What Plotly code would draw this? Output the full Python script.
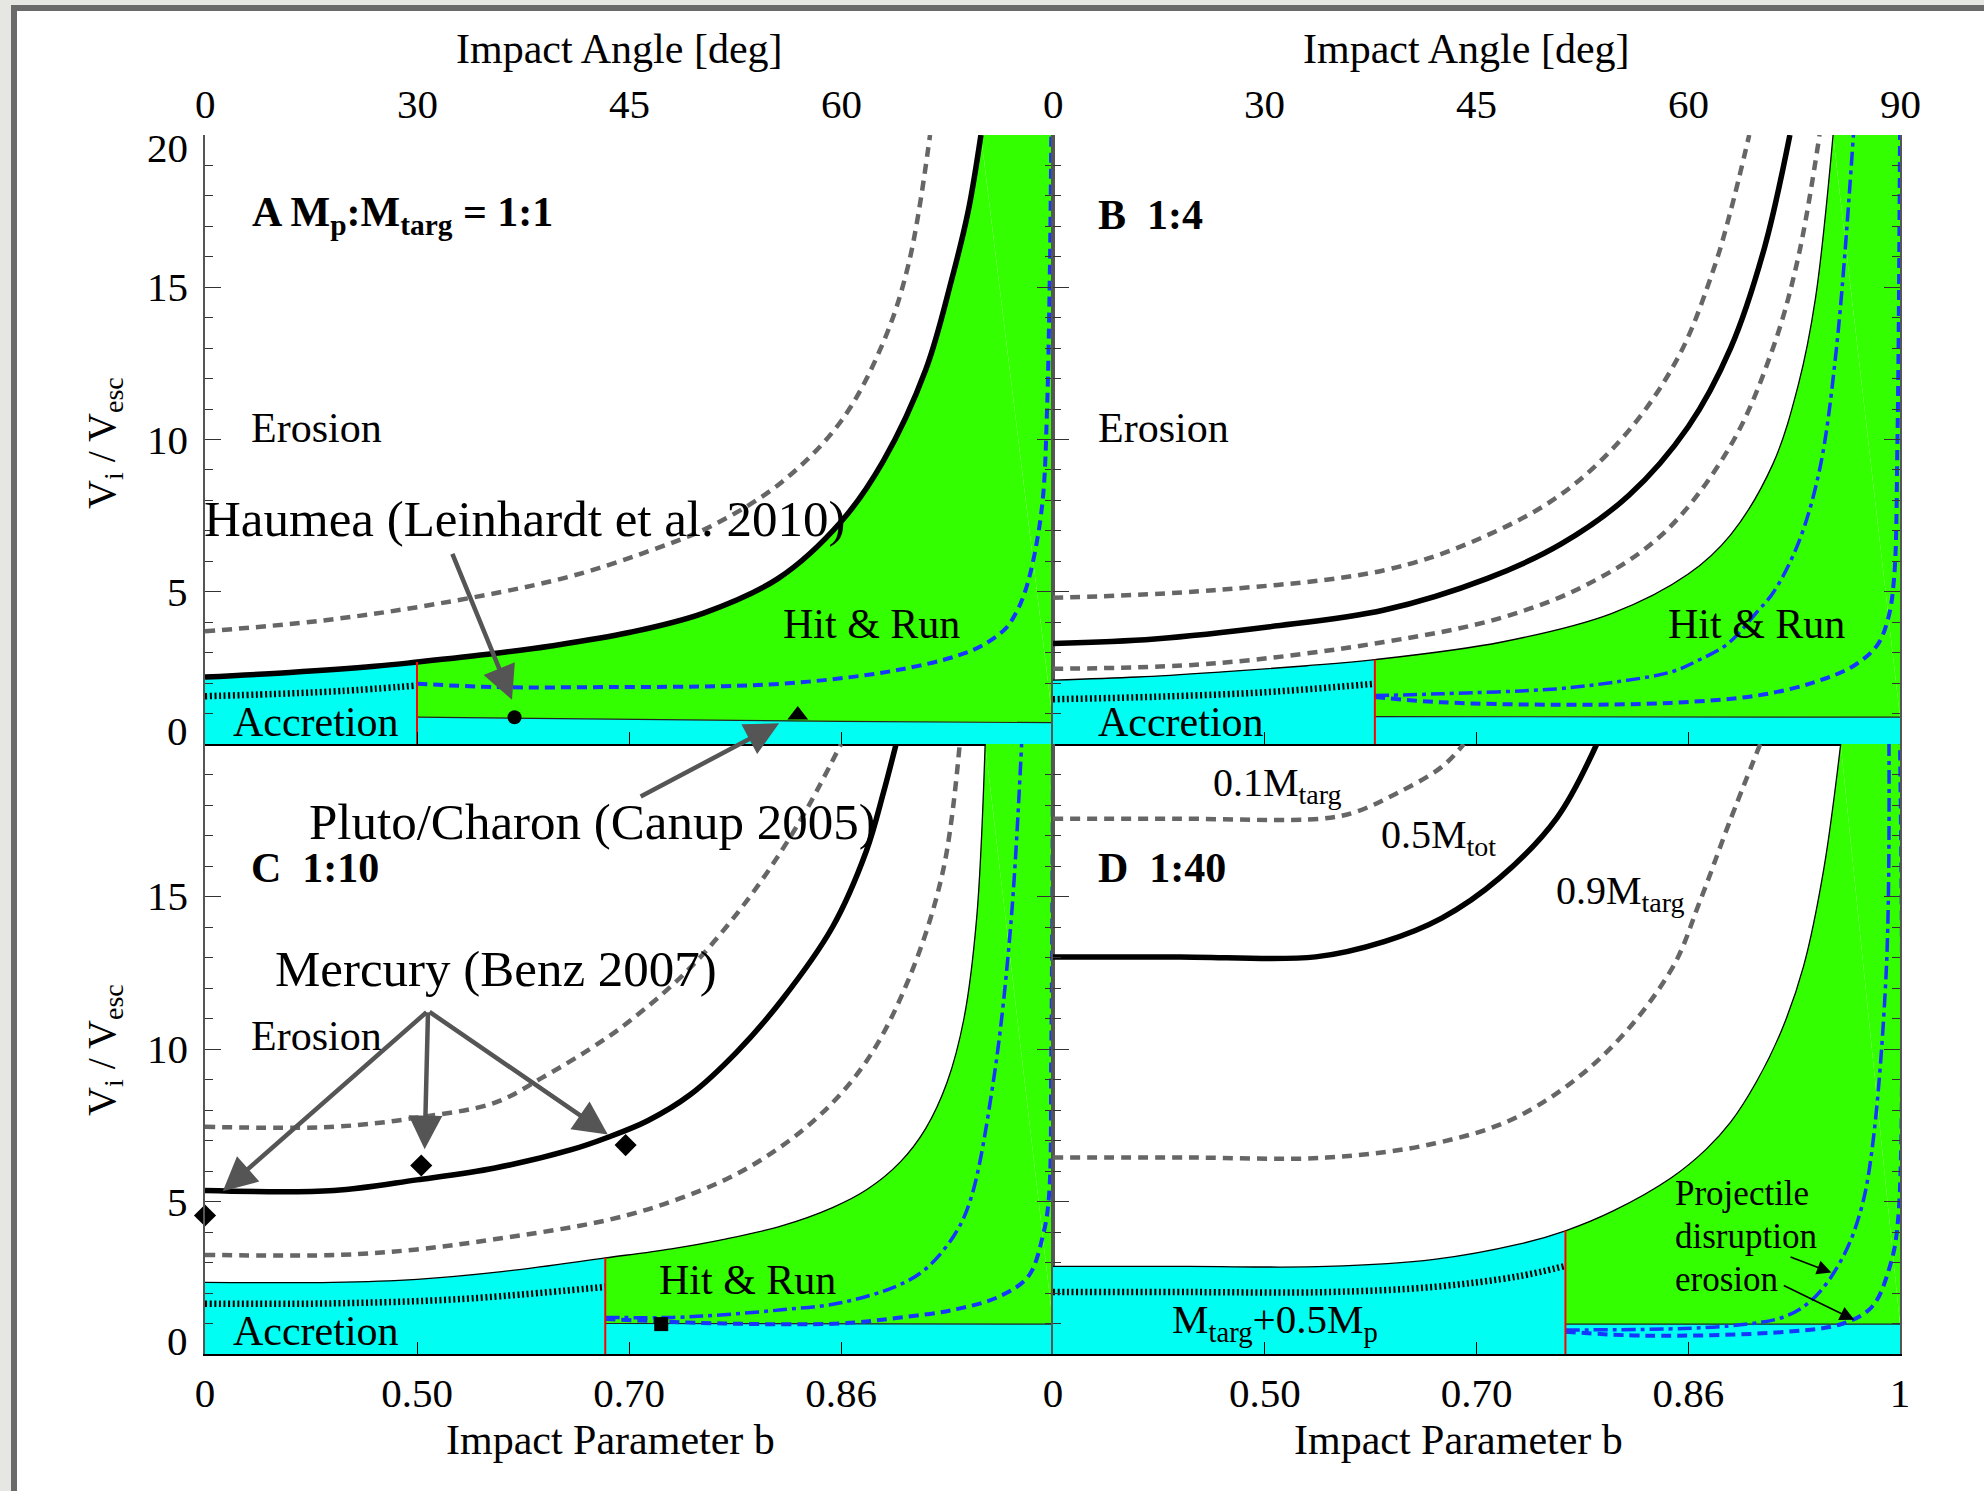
import math
import plotly.graph_objects as go

W, H = 1984, 1491

# ---------------- axis ticks ----------------
angle_major = [0, 30, 45, 60, 90]
angle_major_labels = ["0", "30", "45", "60", "90"]
angle_minor = [5, 10, 15, 20, 25, 35, 40, 50, 55, 65, 70, 75, 80, 85]
b_major_labels = ["0", "0.50", "0.70", "0.86", "1"]
v_major = [0, 5, 10, 15, 20]

# ---------------- data: x = b^2 (= sin^2 impact angle), y = Vi/Vesc ----------------
# Panel A  Mp:Mtarg = 1:1
A_red = 0.25
A_bnd_x = [0, 0.10, 0.20, 0.25, 0.341, 0.408, 0.50, 0.588, 0.676, 0.75, 0.80, 0.85, 0.88, 0.90, 0.915]
A_bnd_y = [2.2, 2.35, 2.55, 2.69, 2.97, 3.22, 3.66, 4.3, 5.44, 7.3, 9.3, 12.3, 15.2, 17.5, 20.0]
A_low_x = [0.25, 0.5, 0.75, 1.0]
A_low_y = [0.88, 0.80, 0.74, 0.70]
A_dot_x = [0, 0.08, 0.16, 0.25]
A_dot_y = [1.57, 1.64, 1.74, 1.92]
A_grey_x = [0, 0.137, 0.273, 0.422, 0.52, 0.60, 0.68, 0.75, 0.80, 0.83, 0.855]
A_grey_y = [3.7, 4.05, 4.6, 5.44, 6.3, 7.2, 8.6, 10.6, 13.2, 15.8, 20]
A_bdash_x = [0.25, 0.341, 0.477, 0.612, 0.68, 0.7475, 0.815, 0.883, 0.917, 0.944, 0.957, 0.967, 0.978, 0.988, 0.993, 0.996, 0.998]
A_bdash_y = [1.98, 1.87, 1.87, 1.90, 1.98, 2.15, 2.42, 2.86, 3.24, 3.79, 4.34, 5.0, 6.2, 8.05, 11.0, 15.0, 20.0]

# Panel B  1:4
B_red = 0.38
B_bnd_x = [0, 0.10, 0.20, 0.30, 0.38, 0.53, 0.66, 0.75, 0.80, 0.85, 0.88, 0.90, 0.921]
B_bnd_y = [2.1, 2.2, 2.37, 2.57, 2.77, 3.35, 4.29, 5.58, 6.87, 9.2, 11.8, 14.6, 20.0]
B_low_x = [0.38, 1.0]
B_low_y = [0.90, 0.88]
B_dot_x = [0, 0.12, 0.25, 0.38]
B_dot_y = [1.47, 1.55, 1.70, 1.98]
B_thick_x = [0, 0.12, 0.256, 0.391, 0.513, 0.60, 0.68, 0.75, 0.80, 0.84, 0.87]
B_thick_y = [3.3, 3.45, 3.85, 4.4, 5.44, 6.57, 8.17, 10.42, 13.0, 16.3, 20.0]
B_grey1_x = [0, 0.19, 0.39, 0.50, 0.60, 0.68, 0.74, 0.78, 0.80, 0.822]
B_grey1_y = [4.8, 5.05, 5.7, 6.7, 8.2, 10.3, 12.8, 15.6, 17.5, 20.0]
B_grey2_x = [0, 0.188, 0.391, 0.526, 0.628, 0.72, 0.80, 0.85, 0.88, 0.905]
B_grey2_y = [2.47, 2.64, 3.35, 4.12, 5.2, 6.9, 9.8, 13.0, 16.0, 20.0]
B_bdash_x = [0.38, 0.459, 0.594, 0.729, 0.831, 0.899, 0.946, 0.973, 0.986, 0.993, 0.997, 1.0]
B_bdash_y = [1.54, 1.37, 1.29, 1.35, 1.59, 2.03, 2.58, 3.24, 4.12, 5.44, 10.0, 20.0]
B_bdd_x = [0.38, 0.459, 0.594, 0.662, 0.729, 0.762, 0.797, 0.83, 0.851, 0.88, 0.905, 0.925, 0.945]
B_bdd_y = [1.59, 1.65, 1.81, 2.03, 2.36, 2.75, 3.3, 4.3, 5.0, 6.6, 9.0, 13.0, 20.0]

# Panel C  1:10
C_red = 0.472
C_bnd_x = [0, 0.15, 0.25, 0.35, 0.472, 0.55, 0.612, 0.68, 0.74, 0.781, 0.82, 0.85, 0.875, 0.895, 0.91, 0.92]
C_bnd_y = [2.35, 2.35, 2.45, 2.7, 3.15, 3.45, 3.76, 4.2, 4.8, 5.4, 6.3, 7.4, 8.9, 11.0, 14.3, 20.0]
C_low_x = [0.472, 1.0]
C_low_y = [1.0, 0.98]
C_dot_x = [0, 0.15, 0.30, 0.472]
C_dot_y = [1.65, 1.66, 1.80, 2.20]
C_thick_x = [0, 0.152, 0.25, 0.342, 0.432, 0.4745, 0.522, 0.572, 0.627, 0.68, 0.74, 0.78, 0.80, 0.815]
C_thick_y = [5.36, 5.36, 5.71, 6.1, 6.7, 7.1, 7.65, 8.5, 9.9, 11.6, 14.0, 16.5, 18.4, 20.0]
C_grey1_x = [0, 0.152, 0.25, 0.342, 0.40, 0.454, 0.50, 0.57, 0.64, 0.70, 0.75]
C_grey1_y = [7.45, 7.45, 7.75, 8.24, 9.1, 10.0, 10.9, 12.6, 14.9, 17.4, 20.0]
C_grey2_x = [0, 0.158, 0.25, 0.341, 0.476, 0.56, 0.64, 0.72, 0.78, 0.83, 0.87, 0.89]
C_grey2_y = [3.25, 3.25, 3.43, 3.76, 4.4, 5.1, 6.1, 7.7, 9.6, 12.3, 15.8, 20.0]
C_bdash_x = [0.472, 0.612, 0.748, 0.815, 0.883, 0.937, 0.971, 0.988, 0.995, 0.998, 1.0]
C_bdash_y = [1.15, 1.0, 1.0, 1.18, 1.45, 1.89, 2.55, 3.87, 5.08, 10.0, 20.0]
C_bdd_x = [0.472, 0.551, 0.612, 0.68, 0.748, 0.815, 0.849, 0.883, 0.903, 0.93, 0.95, 0.963]
C_bdd_y = [1.2, 1.2, 1.29, 1.45, 1.67, 2.22, 2.77, 3.87, 5.08, 9.0, 14.0, 20.0]

# Panel D  1:40
D_red = 0.605
D_bnd_x = [0, 0.16, 0.323, 0.45, 0.55, 0.605, 0.662, 0.73, 0.771, 0.80, 0.83, 0.86, 0.886, 0.91, 0.93]
D_bnd_y = [2.87, 2.87, 2.87, 3.1, 3.6, 4.04, 4.7, 5.78, 6.71, 7.6, 8.9, 10.6, 12.7, 15.9, 20.0]
D_low_x = [0.605, 1.0]
D_low_y = [0.98, 0.98]
D_dot_x = [0, 0.16, 0.323, 0.45, 0.55, 0.605]
D_dot_y = [2.03, 2.03, 2.03, 2.2, 2.55, 2.89]
D_thick_x = [0, 0.15, 0.31, 0.391, 0.459, 0.527, 0.595, 0.642]
D_thick_y = [13.02, 13.02, 13.02, 13.52, 14.29, 15.6, 17.58, 20.0]
D_grey1_x = [0, 0.15, 0.317, 0.357, 0.405, 0.459, 0.485]
D_grey1_y = [17.55, 17.55, 17.55, 17.77, 18.37, 19.25, 20.0]
D_grey2_x = [0, 0.16, 0.323, 0.45, 0.55, 0.65, 0.73, 0.764, 0.798, 0.835]
D_grey2_y = [6.44, 6.44, 6.44, 6.9, 7.8, 9.8, 12.6, 14.86, 17.39, 20.0]
D_bdash_x = [0.605, 0.70, 0.866, 0.933, 0.967, 0.988, 0.998, 1.0]
D_bdash_y = [0.73, 0.6, 0.73, 1.0, 1.55, 2.87, 4.5, 20.0]
D_bdd_x = [0.605, 0.798, 0.866, 0.90, 0.933, 0.954, 0.967, 0.984, 0.987]
D_bdd_y = [0.79, 0.92, 1.25, 1.88, 3.2, 4.74, 6.7, 12.7, 20.0]

# markers
A_circle = ([0.365], [0.88])
A_triangle = ([0.699], [0.95])
C_diamonds = ([0.0, 0.255, 0.496], [4.54, 6.18, 6.85])
C_square = ([0.538], [0.98])

# ---------------- styles ----------------
CYAN = "#00FFF2"
GREEN = "#33FF00"
BLUE = "#1436FF"
GREY = "#666666"
FONT = "Liberation Serif"

XL = (205 / W, 1053 / W)
XR = (1053 / W, 1900 / W)
YT = (1 - 744 / H, 1 - 135 / H)
YB = (1 - 1354 / H, 1 - 744 / H)


def s2(deg):
    return math.sin(math.radians(deg)) ** 2


fig = go.Figure()


def add_panel(k, red, bnd_x, bnd_y, low_x, low_y, dot_x, dot_y,
              greys, thick, bdash, bdd):
    xa, ya = ("x%d" % k, "y%d" % k) if k > 1 else ("x", "y")
    L = [(x, y) for x, y in zip(bnd_x, bnd_y) if x <= red]
    R = [(x, y) for x, y in zip(bnd_x, bnd_y) if x >= red]
    common = dict(xaxis=xa, yaxis=ya, showlegend=False, hoverinfo="skip")
    fig.add_trace(go.Scatter(x=[p[0] for p in L], y=[p[1] for p in L], mode="lines",
                             line=dict(width=0, shape="spline"), fill="tozeroy",
                             fillcolor=CYAN, **common))
    fig.add_trace(go.Scatter(x=low_x, y=low_y, mode="lines", line=dict(width=0),
                             fill="tozeroy", fillcolor=CYAN, **common))
    fig.add_trace(go.Scatter(x=[p[0] for p in R], y=[p[1] for p in R], mode="lines",
                             line=dict(width=0, shape="spline"), fill="tonexty",
                             fillcolor=GREEN, **common))
    fig.add_trace(go.Scatter(x=[low_x[-1], 1.0, R[-1][0]], y=[low_y[-1], 20.0, 20.0],
                             mode="lines", line=dict(width=0), fill="toself",
                             fillcolor=GREEN, **common))
    for gx, gy in greys:
        fig.add_trace(go.Scatter(x=gx, y=gy, mode="lines",
                                 line=dict(color=GREY, width=4.5, dash="10px,7px", shape="spline"),
                                 **common))
    fig.add_trace(go.Scatter(x=bnd_x, y=bnd_y, mode="lines",
                             line=dict(color="black", width=1.3, shape="spline"), **common))
    fig.add_trace(go.Scatter(x=low_x, y=low_y, mode="lines",
                             line=dict(color="#222222", width=1.2), **common))
    fig.add_trace(go.Scatter(x=thick[0], y=thick[1], mode="lines",
                             line=dict(color="black", width=5.5, shape="spline"), **common))
    fig.add_trace(go.Scatter(x=dot_x, y=dot_y, mode="lines",
                             line=dict(color="black", width=6.5, dash="2px,2.6px", shape="spline"),
                             **common))
    fig.add_trace(go.Scatter(x=bdash[0], y=bdash[1], mode="lines",
                             line=dict(color=BLUE, width=4, dash="10px,6px", shape="spline"),
                             **common))
    if bdd is not None:
        fig.add_trace(go.Scatter(x=bdd[0], y=bdd[1], mode="lines",
                                 line=dict(color=BLUE, width=3.5, dash="14px,5px,4px,5px",
                                           shape="spline"), **common))
    fig.add_trace(go.Scatter(x=[red, red], y=[0, R[0][1]], mode="lines",
                             line=dict(color="#FF0000", width=2), **common))


add_panel(1, A_red, A_bnd_x, A_bnd_y, A_low_x, A_low_y, A_dot_x, A_dot_y,
          [(A_grey_x, A_grey_y)], (A_bnd_x, A_bnd_y), (A_bdash_x, A_bdash_y), None)
add_panel(2, B_red, B_bnd_x, B_bnd_y, B_low_x, B_low_y, B_dot_x, B_dot_y,
          [(B_grey1_x, B_grey1_y), (B_grey2_x, B_grey2_y)], (B_thick_x, B_thick_y),
          (B_bdash_x, B_bdash_y), (B_bdd_x, B_bdd_y))
add_panel(3, C_red, C_bnd_x, C_bnd_y, C_low_x, C_low_y, C_dot_x, C_dot_y,
          [(C_grey1_x, C_grey1_y), (C_grey2_x, C_grey2_y)], (C_thick_x, C_thick_y),
          (C_bdash_x, C_bdash_y), (C_bdd_x, C_bdd_y))
add_panel(4, D_red, D_bnd_x, D_bnd_y, D_low_x, D_low_y, D_dot_x, D_dot_y,
          [(D_grey1_x, D_grey1_y), (D_grey2_x, D_grey2_y)], (D_thick_x, D_thick_y),
          (D_bdash_x, D_bdash_y), (D_bdd_x, D_bdd_y))

mk = dict(showlegend=False, hoverinfo="skip", mode="markers", cliponaxis=False)
fig.add_trace(go.Scatter(x=A_circle[0], y=A_circle[1], xaxis="x", yaxis="y",
                         marker=dict(symbol="circle", size=14, color="black"), **mk))
fig.add_trace(go.Scatter(x=A_triangle[0], y=A_triangle[1], xaxis="x", yaxis="y",
                         marker=dict(symbol="triangle-up", size=18, color="black"), **mk))
fig.add_trace(go.Scatter(x=C_diamonds[0], y=C_diamonds[1], xaxis="x3", yaxis="y3",
                         marker=dict(symbol="diamond", size=17, color="black"), **mk))
fig.add_trace(go.Scatter(x=C_square[0], y=C_square[1], xaxis="x3", yaxis="y3",
                         marker=dict(symbol="square", size=14, color="black"), **mk))

# ---------------- axes ----------------
major_pos = [s2(a) for a in angle_major]
minor_pos = [s2(a) for a in angle_minor]
tickfont = dict(family=FONT, size=41, color="black")
layout = {}
for k, (xd, yd) in enumerate([(XL, YT), (XR, YT), (XL, YB), (XR, YB)], start=1):
    sfx = "" if k == 1 else str(k)
    nb = 5 if k in (2, 4) else 4
    base = dict(range=[0, 1], showgrid=False, zeroline=False, automargin=False)
    layout["xaxis" + sfx] = dict(
        domain=list(xd), anchor="y" + sfx, showline=True, linecolor="black", linewidth=1.5,
        ticks="inside", ticklen=12, tickcolor="black", tickwidth=1.2,
        tickvals=major_pos[:nb], ticktext=b_major_labels[:nb],
        showticklabels=k in (3, 4), tickfont=tickfont, ticklabelstandoff=2, **base)
    layout["xaxis" + str(k + 4)] = dict(
        overlaying="x" + sfx, anchor="y" + sfx, side="top", showline=True,
        linecolor="black", linewidth=1.5, ticks="inside", ticklen=12, tickcolor="black",
        tickwidth=1.2, tickvals=major_pos[:nb], showticklabels=False, **base)
    layout["xaxis" + str(k + 8)] = dict(
        overlaying="x" + sfx, anchor="y" + sfx, side="top", showline=False,
        ticks="inside", ticklen=8, tickcolor="black", tickwidth=1.0,
        tickvals=minor_pos, showticklabels=False, **base)
    layout["yaxis" + sfx] = dict(
        domain=list(yd), anchor="x" + sfx, range=[0, 20], showgrid=False, zeroline=False,
        automargin=False, showline=True, linecolor="#555555", linewidth=1.5,
        mirror="allticks", ticks="inside", ticklen=16, tickcolor="#333333", tickwidth=1.2,
        tickvals=v_major, showticklabels=False,
        minor=dict(dtick=1, tick0=0, ticklen=8, ticks="inside", tickcolor="#333333",
                   tickwidth=1.0, showgrid=False))

fig.update_layout(**layout)


def P(xpx, ypx):
    return xpx / W, 1 - ypx / H


ann = []


def text(xpx, ypx, s, size=42, anchor="left", angle=0):
    x, y = P(xpx, ypx)
    ann.append(dict(x=x, y=y, xref="paper", yref="paper", text=s, showarrow=False,
                    xanchor=anchor, yanchor="middle", textangle=angle,
                    font=dict(family=FONT, size=size, color="black")))


# top (impact angle) tick labels, placed on the panels' own x scales
for xref, nb in (("x", 4), ("x2", 5)):
    for pos, lab in zip(major_pos[:nb], angle_major_labels[:nb]):
        ann.append(dict(x=pos, y=1 - 104 / H, xref=xref, yref="paper", text=lab,
                        showarrow=False, xanchor="center", yanchor="middle",
                        font=dict(family=FONT, size=41, color="black")))

# y tick labels (left panels)
for yaxis_ref, top_panel in (("y", True), ("y3", False)):
    for v in v_major:
        if not top_panel and v == 20:
            continue
        shift = 13 if v == 0 else (-13 if v == 20 else 0)
        ann.append(dict(x=190 / W, y=v, xref="paper", yref=yaxis_ref, text=str(v),
                        showarrow=False, xanchor="right", yanchor="middle", yshift=shift,
                        font=dict(family=FONT, size=41, color="black")))

# axis titles
text(619, 49, "Impact Angle [deg]", anchor="center")
text(1466, 49, "Impact Angle [deg]", anchor="center")
text(610, 1440, "Impact Parameter b", anchor="center")
text(1458, 1440, "Impact Parameter b", anchor="center")
text(104, 443, "V<sub>i</sub> / V<sub>esc</sub>", anchor="center", angle=-90, size=40)
text(104, 1050, "V<sub>i</sub> / V<sub>esc</sub>", anchor="center", angle=-90, size=40)

# panel labels and region names
text(250, 215, "<b>A M<sub>p</sub>:M<sub>targ</sub> = 1:1</b>")
text(1096, 215, "<b>B  1:4</b>")
text(249, 868, "<b>C  1:10</b>")
text(1096, 868, "<b>D  1:40</b>")
text(249, 428, "Erosion")
text(1096, 428, "Erosion")
text(249, 1036, "Erosion")
text(781, 624, "Hit &amp; Run")
text(1666, 624, "Hit &amp; Run")
text(657, 1280, "Hit &amp; Run")
text(231, 722, "Accretion")
text(1096, 722, "Accretion")
text(231, 1331, "Accretion")
text(202, 519, "Haumea (Leinhardt et al. 2010)", size=51)
text(307, 822, "Pluto/Charon (Canup 2005)", size=51)
text(273, 969, "Mercury (Benz 2007)", size=51)
text(1211, 785, "0.1M<sub>targ</sub>", size=40)
text(1379, 837, "0.5M<sub>tot</sub>", size=40)
text(1554, 893, "0.9M<sub>targ</sub>", size=40)
text(1170, 1322, "M<sub>targ</sub>+0.5M<sub>p</sub>", size=41)
text(1673, 1193, "Projectile", size=35)
text(1673, 1236, "disruption", size=35)
text(1673, 1279, "erosion", size=35)


def arrow(xr, yr, head, tail, color="#555555", width=4.5, size=1.5):
    ann.append(dict(x=head[0], y=head[1], ax=tail[0], ay=tail[1], xref=xr, yref=yr,
                    axref=xr, ayref=yr, text="", showarrow=True, arrowhead=2,
                    arrowsize=size, arrowwidth=width, arrowcolor=color))


arrow("x", "y", (0.362, 1.45), (0.291, 6.29))
arrow("x", "y", (0.677, 0.68), (0.512, -1.75))
for head in [(0.021, 5.34), (0.259, 6.71), (0.475, 7.2)]:
    arrow("x3", "y3", head, (0.263, 11.25))
arrow("x4", "y4", (0.919, 2.67), (0.869, 3.2), color="black", width=1.6, size=1.8)
arrow("x4", "y4", (0.946, 1.12), (0.861, 2.27), color="black", width=1.6, size=1.8)

# slide frame
shapes = [dict(type="rect", xref="paper", yref="paper", x0=14 / W, x1=1.02, y0=-0.02,
               y1=1 - 8 / H, line=dict(color="#6a6a6a", width=6), fillcolor="white",
               layer="below")]

fig.update_layout(width=W, height=H, margin=dict(l=0, r=0, t=0, b=0, autoexpand=False),
                  paper_bgcolor="#E6E6E2", plot_bgcolor="rgba(0,0,0,0)",
                  annotations=ann, shapes=shapes, showlegend=False)

fig.write_html("out.html", config={"displayModeBar": False},
               post_script="document.body.style.margin='0px';document.body.style.background='#E6E6E2';")
